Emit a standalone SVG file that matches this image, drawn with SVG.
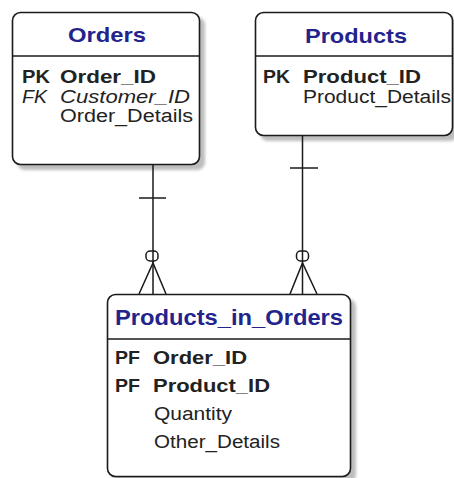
<svg xmlns="http://www.w3.org/2000/svg" width="454" height="478" viewBox="0 0 454 478">
  <defs>
    <filter id="shadow" x="-10%" y="-10%" width="130%" height="130%">
      <feGaussianBlur stdDeviation="1.5"/>
    </filter>
  </defs>
  <style>
    .shadow { fill: #bdbdbd; filter: url(#shadow); }
    .box { fill: #ffffff; stroke: #1a1a1a; stroke-width: 1.6; }
    .sep { stroke: #1a1a1a; stroke-width: 1.6; }
    .title { font-family: "Liberation Sans", Arial, sans-serif; font-weight: bold; fill: #23238c; }
    .fld { font-family: "Liberation Sans", Arial, sans-serif; font-size: 18px; fill: #222222; }
    .b { font-weight: bold; }
    .i { font-style: italic; }
    .conn { stroke: #1a1a1a; stroke-width: 1.5; fill: none; }
  </style>

  <!-- Orders entity -->
  <g id="orders">
    <rect class="shadow" x="17" y="17" width="188" height="153" rx="8"/>
    <rect class="box" x="12.5" y="12.5" width="187" height="152" rx="8"/>
    <line class="sep" x1="12.5" y1="56" x2="199.5" y2="56"/>
    <text class="title" x="68" y="42" font-size="21" textLength="78" lengthAdjust="spacingAndGlyphs">Orders</text>
    <text class="fld b" x="22" y="83" textLength="28" lengthAdjust="spacingAndGlyphs">PK</text>
    <text class="fld b" x="60" y="83" textLength="96" lengthAdjust="spacingAndGlyphs">Order_ID</text>
    <text class="fld i" x="22" y="103" textLength="25" lengthAdjust="spacingAndGlyphs">FK</text>
    <text class="fld i" x="60" y="103" textLength="130" lengthAdjust="spacingAndGlyphs">Customer_ID</text>
    <text class="fld" x="60" y="122" textLength="133" lengthAdjust="spacingAndGlyphs">Order_Details</text>
  </g>

  <!-- Products entity -->
  <g id="products">
    <rect class="shadow" x="260" y="17" width="198" height="124" rx="8"/>
    <rect class="box" x="255.5" y="12.5" width="197" height="123" rx="8"/>
    <line class="sep" x1="255.5" y1="56" x2="452.5" y2="56"/>
    <text class="title" x="305" y="43" font-size="21" textLength="102" lengthAdjust="spacingAndGlyphs">Products</text>
    <text class="fld b" x="263" y="83" textLength="27" lengthAdjust="spacingAndGlyphs">PK</text>
    <text class="fld b" x="303" y="83" textLength="118" lengthAdjust="spacingAndGlyphs">Product_ID</text>
    <text class="fld" x="303" y="103" textLength="148" lengthAdjust="spacingAndGlyphs">Product_Details</text>
  </g>

  <!-- Products_in_Orders entity -->
  <g id="products_in_orders">
    <rect class="shadow" x="112" y="299" width="244" height="184" rx="8"/>
    <rect class="box" x="107.5" y="294.5" width="243" height="182" rx="8"/>
    <line class="sep" x1="107.5" y1="339" x2="350.5" y2="339"/>
    <text class="title" x="115" y="325" font-size="22" textLength="228" lengthAdjust="spacingAndGlyphs">Products_in_Orders</text>
    <text class="fld b" x="115" y="364" textLength="25" lengthAdjust="spacingAndGlyphs">PF</text>
    <text class="fld b" x="153" y="364" textLength="94" lengthAdjust="spacingAndGlyphs">Order_ID</text>
    <text class="fld b" x="115" y="392" textLength="25" lengthAdjust="spacingAndGlyphs">PF</text>
    <text class="fld b" x="153" y="392" textLength="117" lengthAdjust="spacingAndGlyphs">Product_ID</text>
    <text class="fld" x="154" y="420" textLength="78" lengthAdjust="spacingAndGlyphs">Quantity</text>
    <text class="fld" x="154" y="448" textLength="126" lengthAdjust="spacingAndGlyphs">Other_Details</text>
  </g>

  <!-- Relationships: one-and-only-one to zero-or-many -->
  <g id="connectors">
    <!-- Orders to Products_in_Orders -->
    <line class="conn" x1="153" y1="165" x2="153" y2="294"/>
    <line class="conn" x1="139" y1="198" x2="166" y2="198"/>
    <rect class="conn" x="146" y="251" width="12" height="10" rx="4"/>
    <polyline class="conn" points="139,294 153,263 166,294"/>
    <!-- Products to Products_in_Orders -->
    <line class="conn" x1="302.5" y1="136" x2="302.5" y2="294"/>
    <line class="conn" x1="290" y1="168" x2="318" y2="168"/>
    <rect class="conn" x="296.5" y="251" width="12" height="10" rx="4"/>
    <polyline class="conn" points="290,294 302.5,263 317,294"/>
  </g>
</svg>
